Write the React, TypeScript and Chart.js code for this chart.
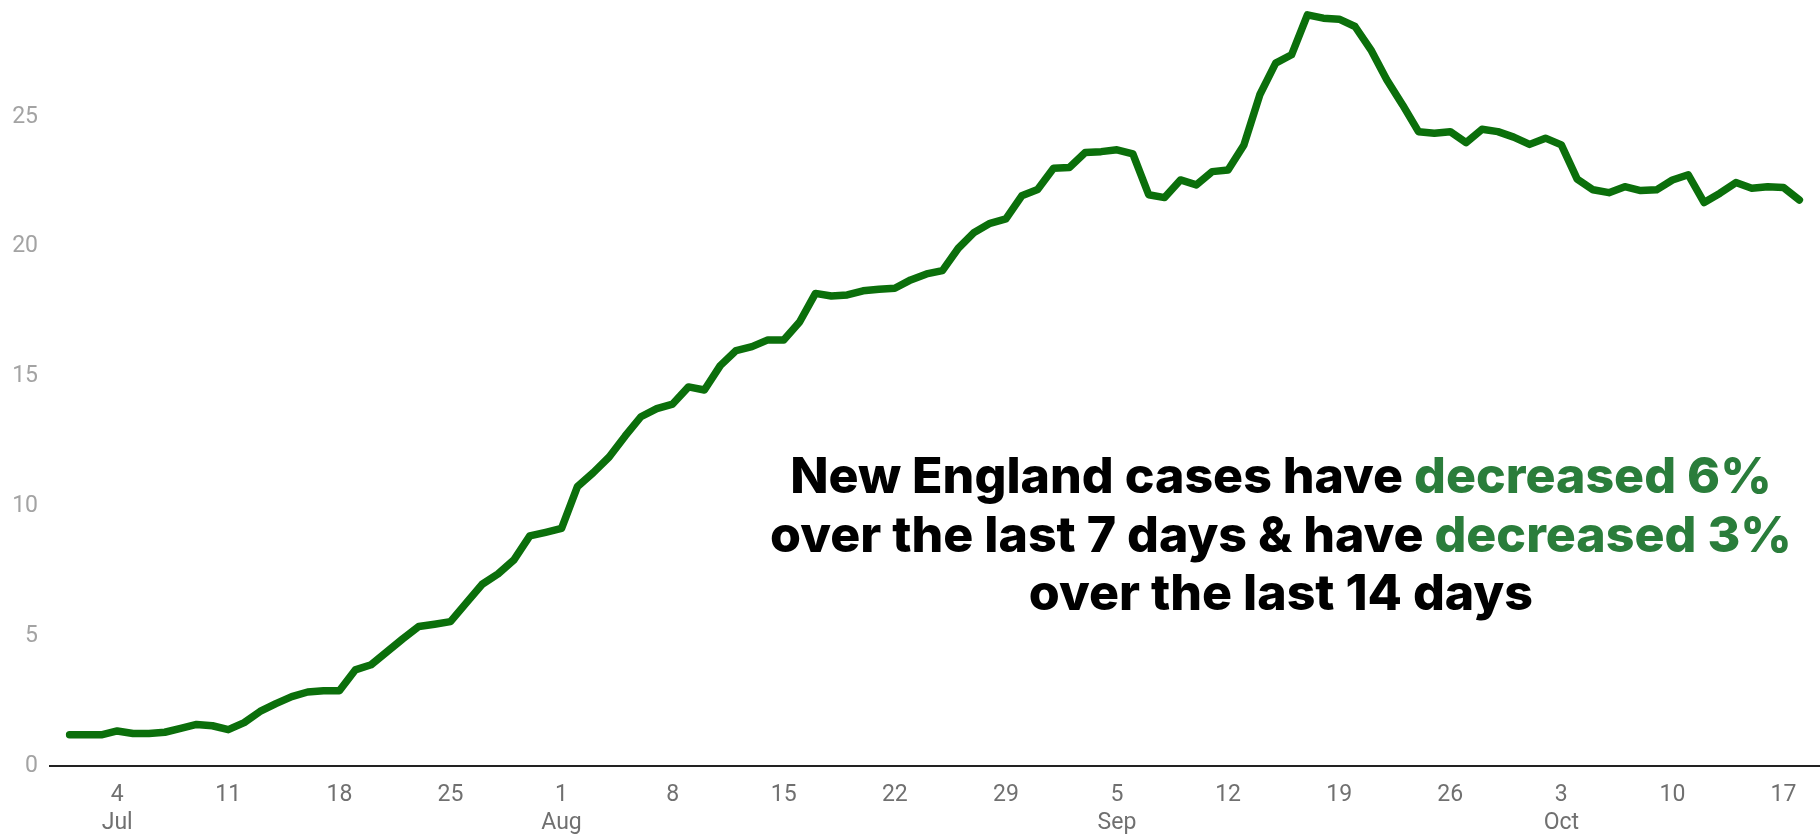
import React, { useEffect, useRef } from "react";
import { Chart, registerables } from "chart.js";

Chart.register(...registerables);

// Daily values, Jul 1 (index 0) to Oct 18 (index 109)
const caseValues: number[] = [
  1.2, 1.2, 1.2, 1.35, 1.25, 1.25, 1.3, 1.45, 1.6, 1.55,
  1.4, 1.67, 2.1, 2.4, 2.67, 2.85, 2.9, 2.9, 3.7, 3.9,
  4.4, 4.9, 5.37, 5.46, 5.56, 6.28, 7.0, 7.4, 7.94, 8.86,
  9.0, 9.15, 10.76, 11.3, 11.9, 12.7, 13.45, 13.76, 13.94, 14.6,
  14.48, 15.42, 16.0, 16.15, 16.41, 16.41, 17.1, 18.2, 18.1, 18.14,
  18.3, 18.36, 18.4, 18.72, 18.95, 19.08, 19.94, 20.55, 20.9, 21.07,
  21.96, 22.2, 23.02, 23.05, 23.63, 23.66, 23.73, 23.57, 22.0, 21.89,
  22.57, 22.38, 22.89, 22.95, 23.92, 25.85, 27.07, 27.39, 28.93, 28.8,
  28.76, 28.48, 27.58, 26.43, 25.46, 24.43, 24.37, 24.43, 24.01, 24.52,
  24.43, 24.22, 23.94, 24.18, 23.92, 22.6, 22.19, 22.08, 22.31, 22.16,
  22.19, 22.57, 22.77, 21.7, 22.06, 22.47, 22.25, 22.31, 22.28, 21.8,
];

const tickDays: number[] = [3, 10, 17, 24, 31, 38, 45, 52, 59, 66, 73, 80, 87, 94, 101, 108];
const tickDayLabels: string[] = ["4", "11", "18", "25", "1", "8", "15", "22", "29", "5", "12", "19", "26", "3", "10", "17"];
const tickMonthLabels: string[] = ["Jul", "", "", "", "Aug", "", "", "", "", "Sep", "", "", "", "Oct", "", ""];
const yTickValues: number[] = [0, 5, 10, 15, 20, 25];

const BLACK = "#000000";
const GREEN_TEXT = "#2a7d3b";
const LINE_GREEN = "#0b6f0b";

const annotationLines: { text: string; color: string }[][] = [
  [
    { text: "New England cases have ", color: BLACK },
    { text: "decreased 6%", color: GREEN_TEXT },
  ],
  [
    { text: "over the last 7 days & have ", color: BLACK },
    { text: "decreased 3%", color: GREEN_TEXT },
  ],
  [{ text: "over the last 14 days", color: BLACK }],
];

const annotationPlugin = {
  id: "annotationText",
  afterDraw(chart: any) {
    const ctx: CanvasRenderingContext2D = chart.ctx;
    const family = "Inter, 'Open Sans', 'Noto Sans', sans-serif";
    ctx.save();
    ctx.font = `800 100px ${family}`;
    const refWidth = annotationLines[1].reduce((s, seg) => s + ctx.measureText(seg.text).width, 0);
    const size = (100 * 1022) / refWidth;
    ctx.font = `800 ${size}px ${family}`;
    ctx.textAlign = "left";
    ctx.textBaseline = "alphabetic";
    const cx = chart.width * 0.7038;
    const baselines = [chart.height * 0.5895, chart.height * 0.6595, chart.height * 0.7285];
    annotationLines.forEach((line, i) => {
      const total = line.reduce((s, seg) => s + ctx.measureText(seg.text).width, 0);
      let x = cx - total / 2;
      line.forEach((seg) => {
        ctx.fillStyle = seg.color;
        ctx.fillText(seg.text, x, baselines[i]);
        x += ctx.measureText(seg.text).width;
      });
    });
    ctx.restore();
  },
};

export default function App() {
  const canvasRef = useRef<HTMLCanvasElement | null>(null);

  useEffect(() => {
    document.body.style.margin = "0";
    const canvas = canvasRef.current;
    if (!canvas) return;
    const points = caseValues.map((v, i) => ({ x: i, y: v }));
    const chart = new Chart(canvas, {
      type: "line",
      data: {
        datasets: [
          {
            data: points,
            borderColor: LINE_GREEN,
            borderWidth: 7.5,
            pointRadius: 0,
            pointHoverRadius: 0,
            tension: 0,
            fill: false,
            clip: false,
            borderJoinStyle: "round",
            borderCapStyle: "round",
          },
        ],
      },
      options: {
        animation: false,
        responsive: false,
        maintainAspectRatio: false,
        layout: { padding: 0 },
        plugins: {
          legend: { display: false },
          tooltip: { enabled: false },
          title: { display: false },
        },
        scales: {
          x: {
            type: "linear",
            min: -1.235,
            max: 110.3,
            grid: { display: false, drawTicks: false },
            border: { display: true, color: "#222222", width: 2 },
            afterBuildTicks: (scale: any) => {
              scale.ticks = tickDays.map((d) => ({ value: d }));
            },
            afterFit: (scale: any) => {
              scale.height = 71;
              scale.paddingLeft = 0;
              scale.paddingRight = 0;
              scale.paddingTop = 0;
              scale.paddingBottom = 0;
            },
            ticks: {
              autoSkip: false,
              maxRotation: 0,
              minRotation: 0,
              padding: 15,
              color: "#707070",
              font: { family: "Roboto, sans-serif", size: 23, lineHeight: 1.22 },
              callback: (_v: any, index: number) => {
                const m = tickMonthLabels[index];
                return m ? [tickDayLabels[index], m] : tickDayLabels[index];
              },
            },
          },
          y: {
            type: "linear",
            min: 0,
            max: 29.5,
            grid: { display: false, drawTicks: false },
            border: { display: false },
            afterBuildTicks: (scale: any) => {
              scale.ticks = yTickValues.map((v) => ({ value: v }));
            },
            afterFit: (scale: any) => {
              scale.width = 50;
              scale.paddingTop = 0;
              scale.paddingBottom = 0;
              scale.paddingLeft = 0;
              scale.paddingRight = 0;
            },
            ticks: {
              padding: 12,
              color: "#a3a3a3",
              font: { family: "Roboto, sans-serif", size: 23 },
              callback: (v: any) => String(v),
            },
          },
        },
      },
      plugins: [annotationPlugin],
    });
    return () => chart.destroy();
  }, []);

  return (
    <div style={{ position: "absolute", left: 0, top: 0, width: 1820, height: 837, background: "#ffffff" }}>
      <canvas ref={canvasRef} width={1820} height={837} style={{ display: "block" }} />
    </div>
  );
}
